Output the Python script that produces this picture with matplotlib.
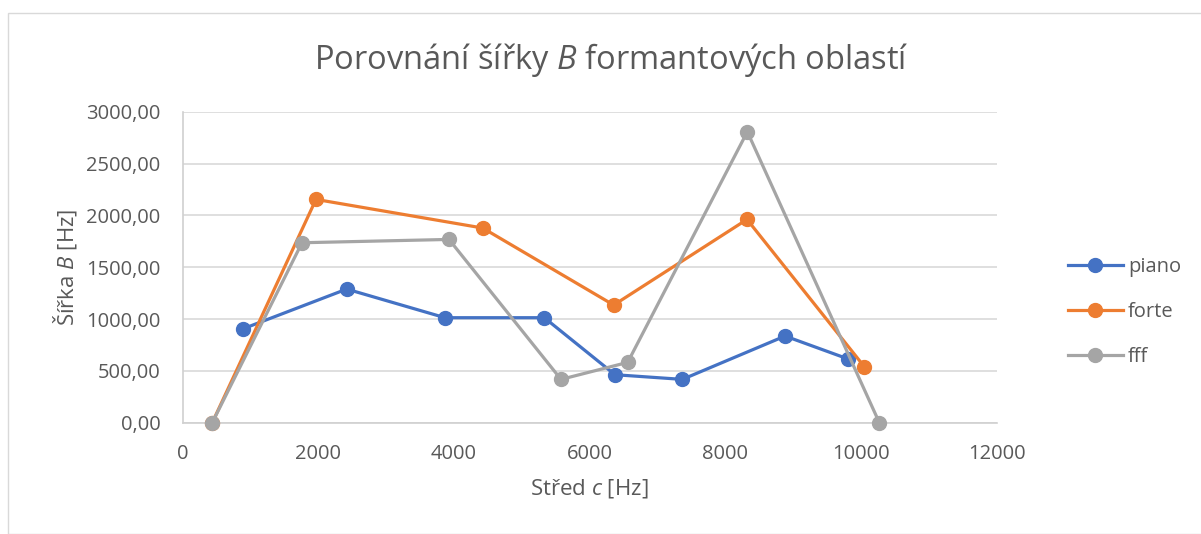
import matplotlib
matplotlib.use('Agg')
import matplotlib.pyplot as plt
from matplotlib.patches import Rectangle
from matplotlib.ticker import FuncFormatter

FONT = 'Open Sans'
plt.rcParams['font.family'] = [FONT, 'DejaVu Sans']
plt.rcParams['mathtext.fontset'] = 'custom'
plt.rcParams['mathtext.rm'] = FONT
plt.rcParams['mathtext.it'] = FONT + ':italic'

piano_x = [894, 2418, 3867, 5331, 6373, 7366, 8880, 9813]
piano_y = [907, 1289, 1013, 1013, 463, 418, 836, 614]

forte_x = [436, 1965, 4423, 6354, 8319, 10049]
forte_y = [0, 2154, 1878, 1135, 1961, 540]

fff_x = [436, 1759, 3926, 5577, 6560, 8324, 10270]
fff_y = [0, 1736, 1768, 418, 582, 2807, 0]

series = [
    ('piano', piano_x, piano_y, '#4472C4'),
    ('forte', forte_x, forte_y, '#ED7D31'),
    ('fff', fff_x, fff_y, '#A5A5A5'),
]

text_col = '#595959'

fig = plt.figure(figsize=(12.01, 5.34), dpi=100)
fig.patches.append(Rectangle((8 / 1201, 0), 1.0, 1 - 13 / 534,
                             transform=fig.transFigure, fill=False,
                             edgecolor='#d9d9d9', linewidth=1))
ax = fig.add_axes([0.1521, 0.2084, 0.6778, 0.5824])

for name, xs, ys, col in series:
    ax.plot(xs, ys, '-o', color=col, lw=2.3, markersize=10, label=name,
            clip_on=False, zorder=3)

ax.set_xlim(0, 12000)
ax.set_ylim(0, 3000)
ax.set_xticks(range(0, 12001, 2000))
ax.set_yticks(range(0, 3001, 500))
ax.yaxis.set_major_formatter(FuncFormatter(lambda v, p: f'{v:.2f}'.replace('.', ',')))
ax.grid(axis='y', color='#d9d9d9', lw=1.2)
ax.set_axisbelow(True)
for side in ['top', 'right']:
    ax.spines[side].set_visible(False)
for side in ['left', 'bottom']:
    ax.spines[side].set_color('#d0d0d0')
    ax.spines[side].set_linewidth(1.2)
ax.tick_params(length=0, labelsize=14.5, colors=text_col)
ax.tick_params(axis='y', pad=16)
ax.tick_params(axis='x', pad=15)

ax.set_xlabel(r'Střed $\it{c}$ [Hz]', fontsize=16, color=text_col, labelpad=10)
ax.set_ylabel(r'Šířka $\it{B}$ [Hz]', fontsize=16, color=text_col, labelpad=5)
fig.text(0.509, 1 - 60 / 534, r'Porovnání šířky $\it{B}$ formantových oblastí',
         ha='center', va='center', fontsize=23.5, color=text_col)

ax.legend(loc='center left', bbox_to_anchor=(1.065, 0.356), frameon=False,
          fontsize=14.5, labelcolor=text_col, handlelength=2.75,
          labelspacing=1.25, handletextpad=0.25)

fig.savefig('out.png', dpi=100)
